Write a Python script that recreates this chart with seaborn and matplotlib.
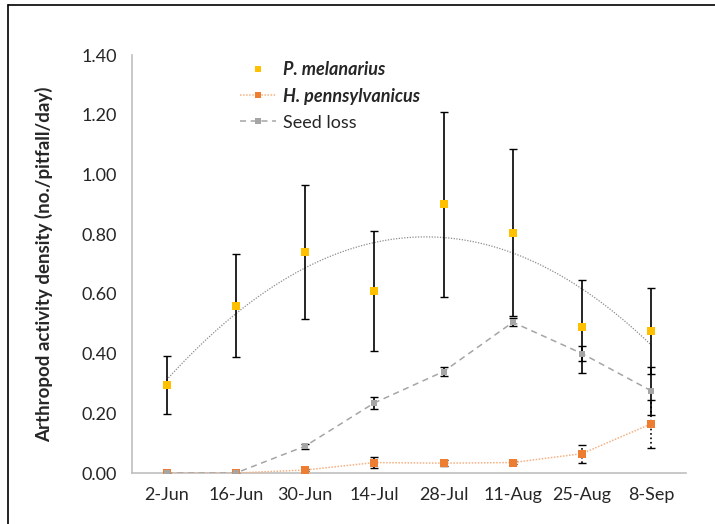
import numpy as np
import pandas as pd
import seaborn as sns
import matplotlib.pyplot as plt
from matplotlib.lines import Line2D

# Data
dates = ['2-Jun', '16-Jun', '30-Jun', '14-Jul', '28-Jul', '11-Aug', '25-Aug', '8-Sep']
mel = [0.295, 0.56, 0.74, 0.61, 0.90, 0.805, 0.49, 0.475]
mel_err = [0.098, 0.172, 0.225, 0.20, 0.31, 0.28, 0.155, 0.145]
penn = [0.0, 0.0, 0.01, 0.035, 0.033, 0.035, 0.065, 0.165]
penn_err = [0.0, 0.0, 0.003, 0.018, 0.01, 0.006, 0.03, 0.08]
seed = [0.0, 0.0, 0.09, 0.235, 0.34, 0.505, 0.40, 0.275]
seed_err = [0.0, 0.0, 0.008, 0.02, 0.015, 0.013, 0.025, 0.08]

sns.set_style('white')
plt.rcParams['font.family'] = ['Lato', 'DejaVu Sans']

x = np.arange(len(dates))
df = pd.DataFrame({'x': x, 'mel': mel, 'penn': penn, 'seed': seed})

fig = plt.figure(figsize=(7.15, 5.24), dpi=100)
ax = fig.add_axes([0.1846, 0.0973, 0.7748, 0.7977])

# polynomial trendline for P. melanarius (order 2, like Excel)
coef = np.polyfit(x, mel, 2)
xs = np.linspace(0, len(dates) - 1, 200)
ax.plot(xs, np.polyval(coef, xs), color='#8c8c8c', lw=0.9, ls=(0, (1, 1.2)), zorder=1)

# error bars
ax.errorbar(x, mel, yerr=mel_err, fmt='none', ecolor='black', elinewidth=1.2, capsize=3, capthick=1, zorder=2)
ax.errorbar(x, seed, yerr=seed_err, fmt='none', ecolor='black', elinewidth=1.2, capsize=3, capthick=1, zorder=2)
eb = ax.errorbar(x, penn, yerr=penn_err, fmt='none', ecolor='black', elinewidth=1.2, capsize=3, capthick=1, zorder=2)
eb[2][0].set_linestyle(':')

sns.lineplot(data=df, x='x', y='penn', ax=ax, color='#F4B183', lw=1.1, linestyle=(0, (1, 1)), zorder=3)
sns.scatterplot(data=df, x='x', y='penn', ax=ax, color='#ED7D31', marker='s', s=28, linewidth=0, zorder=4)
sns.lineplot(data=df, x='x', y='seed', ax=ax, color='#A5A5A5', lw=1.1, linestyle=(0, (4, 3)),
             marker='s', markersize=5, markeredgewidth=0, zorder=5)
sns.scatterplot(data=df, x='x', y='mel', ax=ax, color='#FFC000', marker='s', s=28, linewidth=0, zorder=6)

ax.set_xlim(-0.5, len(dates) - 0.5)
ax.set_ylim(0, 1.4)
ax.set_yticks(np.arange(0, 1.41, 0.2))
ax.set_yticklabels([f'{v:.2f}' for v in np.arange(0, 1.41, 0.2)], fontsize=13)
ax.set_xticks(np.arange(-0.5, len(dates), 1.0))
ax.set_xticklabels([])
ax.set_xticks(x, minor=True)
ax.set_xticklabels(dates, minor=True, fontsize=13)
ax.tick_params(axis='x', which='minor', length=0, pad=10)
ax.tick_params(axis='x', which='major', length=5, width=1, color='#BFBFBF', direction='out')
ax.tick_params(axis='y', length=5, width=1, color='#BFBFBF', direction='out', pad=6)
ax.set_xlabel('')
ax.set_ylabel('Arthropod activity density (no./pitfall/day)', fontsize=13.5, fontweight='bold', labelpad=20)

for s in ['top', 'right']:
    ax.spines[s].set_visible(False)
for s in ['left', 'bottom']:
    ax.spines[s].set_color('#BFBFBF')
    ax.spines[s].set_linewidth(1.2)

handles = [
    Line2D([], [], ls='none', marker='s', color='#FFC000', markersize=5, markeredgewidth=0),
    Line2D([], [], ls=(0, (1, 1)), lw=1.1, marker='s', color='#F4B183', markerfacecolor='#ED7D31',
           markersize=5, markeredgewidth=0),
    Line2D([], [], ls=(0, (4, 3)), lw=1.1, marker='s', color='#A5A5A5', markersize=5, markeredgewidth=0),
]
leg = ax.legend(handles, ['P. melanarius', 'H. pennsylvanicus', 'Seed loss'], loc='upper left',
                bbox_to_anchor=(0.165, 1.025), frameon=False, fontsize=13, handlelength=2.0,
                handletextpad=0.4, labelspacing=0.55)
for t in leg.get_texts()[:2]:
    t.set_style('italic')
    t.set_fontweight('bold')

# outer chart frame (left and top edges visible in the crop)
fig.add_artist(Line2D([8 / 715, 8 / 715], [0, 1 - 5 / 524], color='black', lw=1.2))
fig.add_artist(Line2D([8 / 715, 1], [1 - 5 / 524, 1 - 5 / 524], color='black', lw=1.2))

fig.savefig('out.png', dpi=100)
